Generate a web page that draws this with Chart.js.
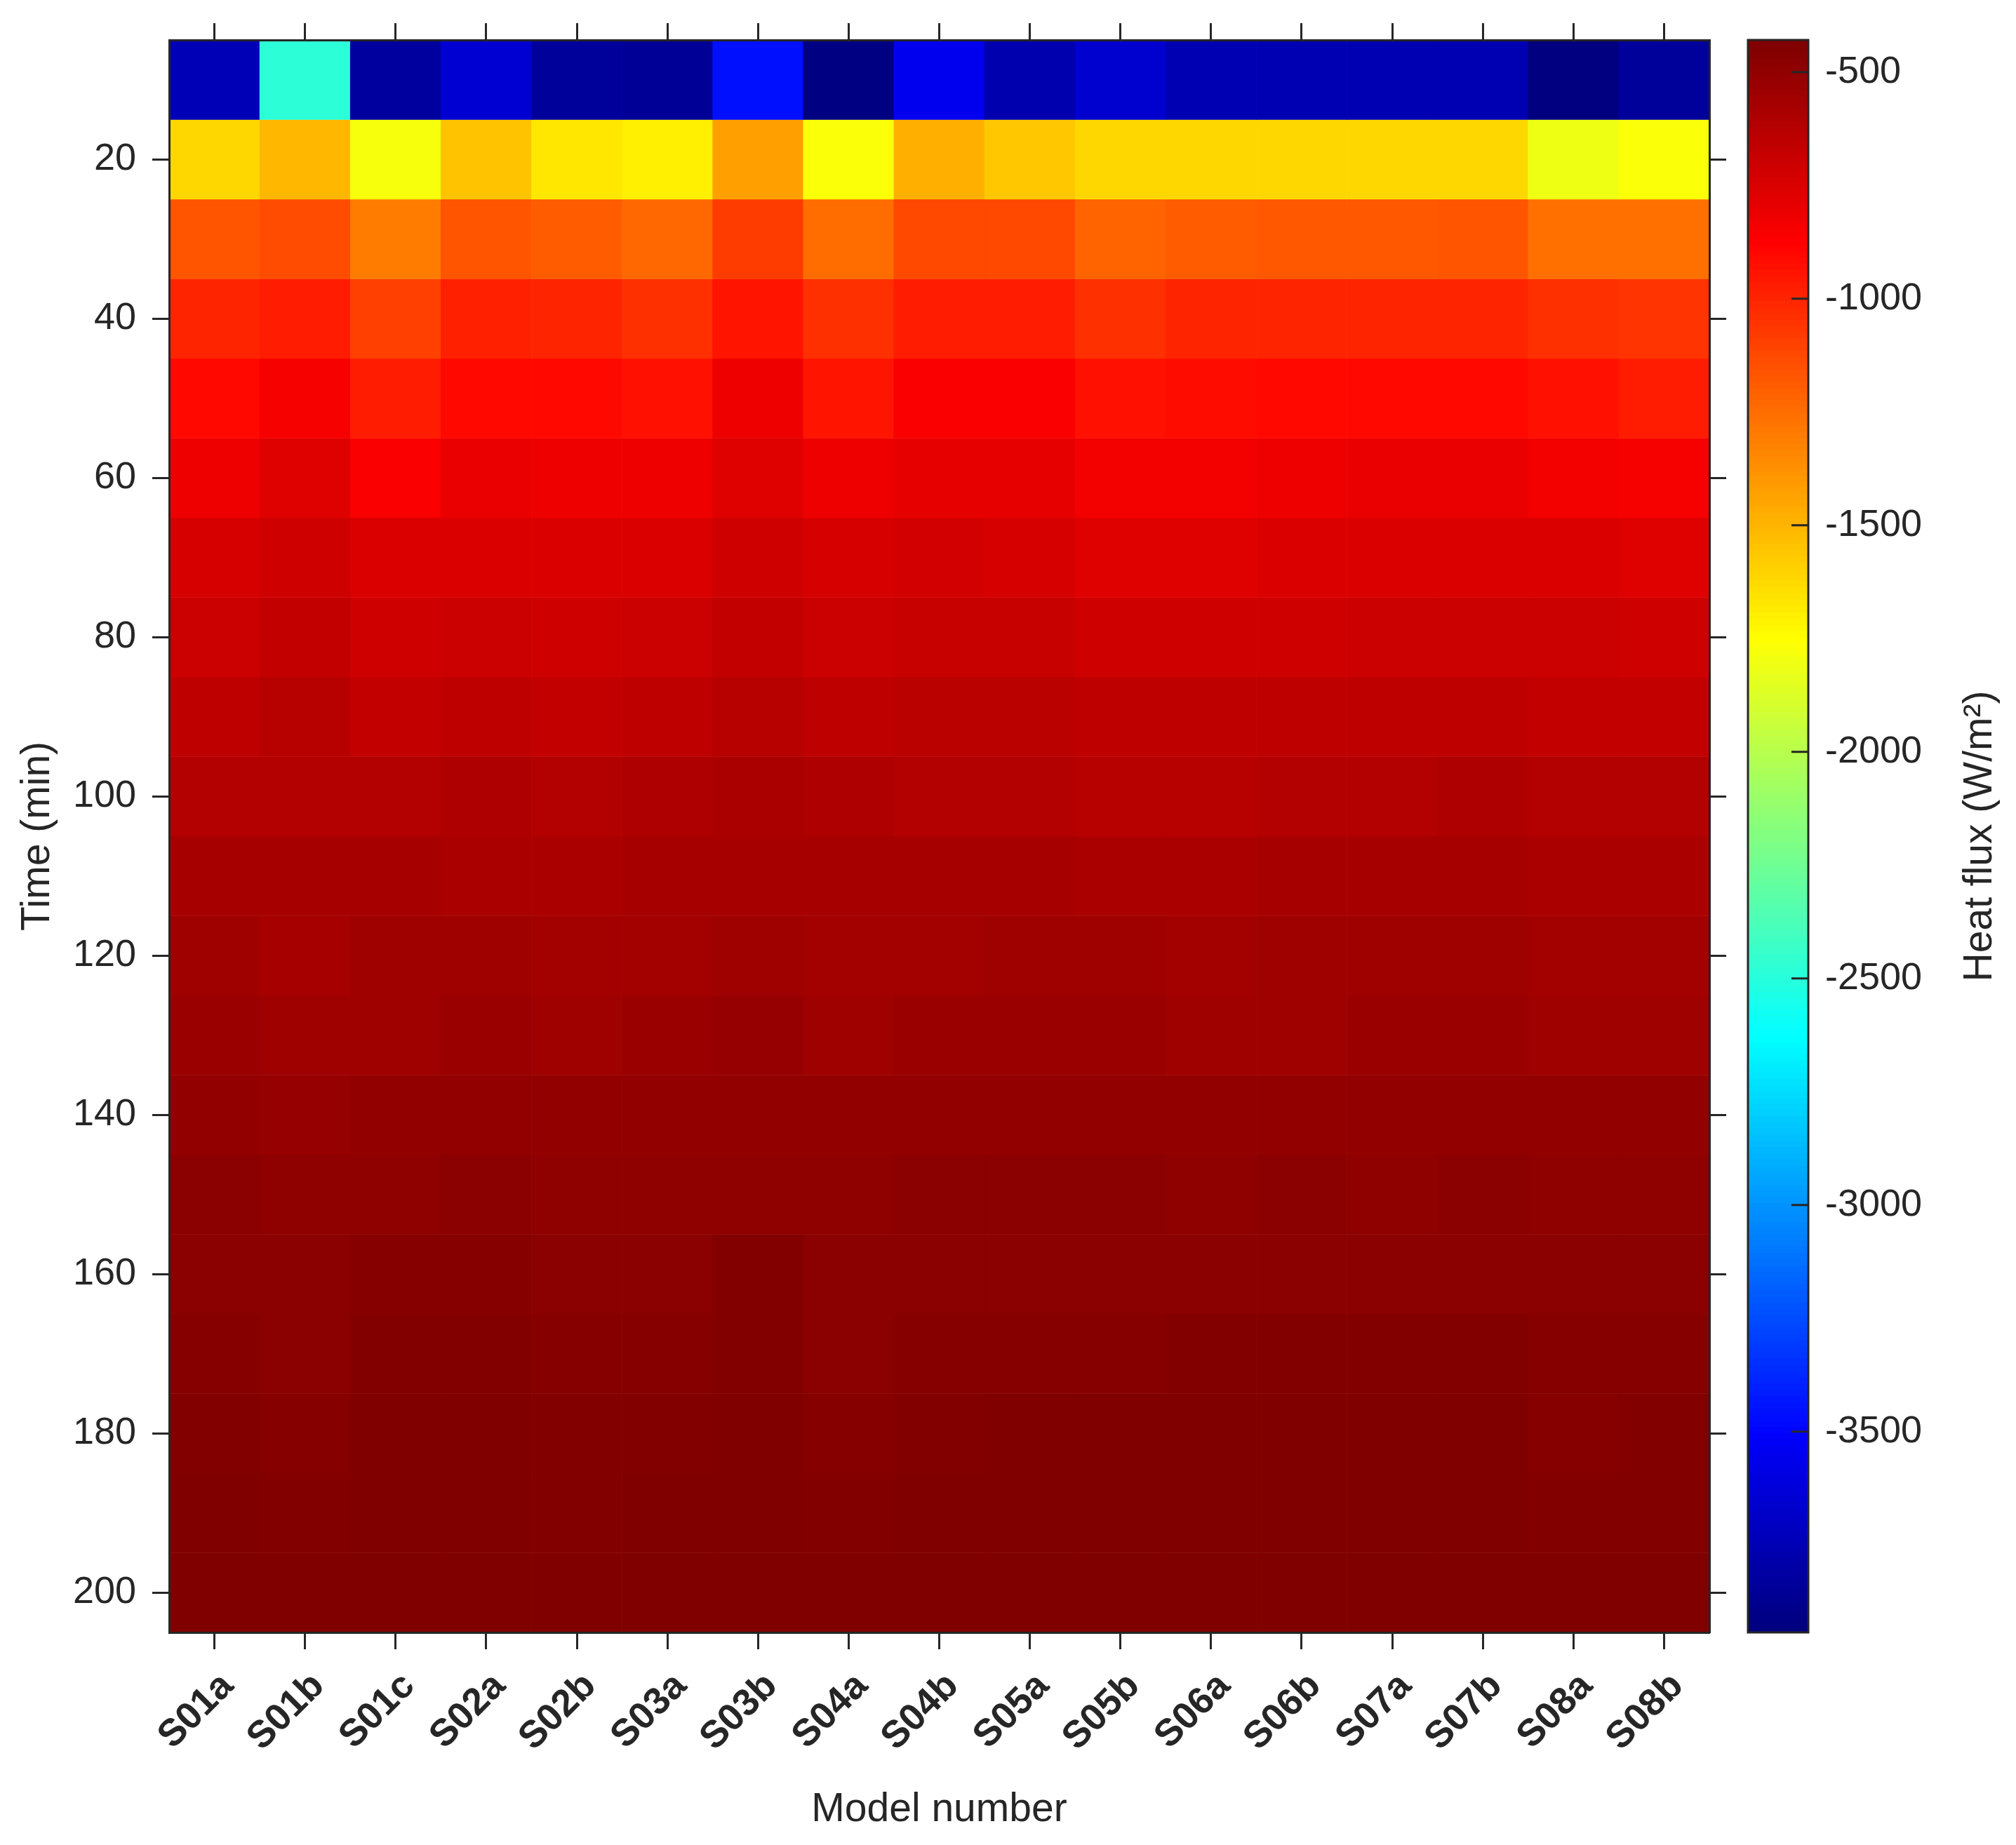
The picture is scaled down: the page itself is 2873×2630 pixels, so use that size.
<!DOCTYPE html>
<html>
<head>
<meta charset="utf-8">
<script src="https://cdn.jsdelivr.net/npm/chart.js@4.4.1/dist/chart.umd.min.js"></script>
<style>
  html, body { margin: 0; padding: 0; background: #fff; }
  #wrap { position: relative; width: 2873px; height: 2630px; }
  #heatmap { position: absolute; left: 0; top: 0; }
  #colorbar { position: absolute; left: 2480px; top: 0; }
</style>
</head>
<body>
<div id="wrap">
  <canvas id="heatmap" width="2480" height="2630"></canvas>
  <canvas id="colorbar" width="393" height="2630"></canvas>
</div>
<script>
const models = ['S01a', 'S01b', 'S01c', 'S02a', 'S02b', 'S03a', 'S03b', 'S04a', 'S04b',
                'S05a', 'S05b', 'S06a', 'S06b', 'S07a', 'S07b', 'S08a', 'S08b'];
const times = [10, 20, 30, 40, 50, 60, 70, 80, 90, 100, 110, 120, 130, 140, 150, 160, 170, 180, 190, 200];
const timeTicks = [20, 40, 60, 80, 100, 120, 140, 160, 180, 200];
const fluxTicks = [-500, -1000, -1500, -2000, -2500, -3000, -3500];

// heat flux (W/m2) for each model, one value per time step
const S01a = [-3742, -1610, -1160, -1005, -896, -823, -742, -693, -658, -610, -577, -548, -535, -507, -479, -476, -465, -444, -436, -429];
const S01b = [-2481, -1503, -1130, -972, -845, -768, -713, -665, -630, -610, -577, -570, -541, -521, -486, -476, -472, -458, -444, -436];
const S01c = [-3831, -1786, -1307, -1088, -978, -868, -754, -713, -672, -617, -577, -548, -541, -500, -486, -465, -451, -436, -430, -429];
const S02a = [-3652, -1544, -1160, -991, -896, -809, -748, -700, -658, -603, -582, -548, -528, -500, -472, -465, -451, -436, -430, -429];
const S02b = [-3835, -1675, -1195, -1005, -896, -823, -748, -707, -672, -610, -589, -562, -541, -500, -493, -472, -465, -451, -444, -436];
const S03a = [-3859, -1705, -1227, -1034, -925, -823, -748, -700, -658, -603, -570, -555, -528, -500, -493, -472, -458, -444, -436, -432];
const S03b = [-3455, -1420, -1075, -937, -823, -761, -707, -672, -630, -589, -570, -548, -514, -500, -486, -451, -444, -430, -430, -429];
const S04a = [-3920, -1765, -1247, -1040, -937, -816, -742, -700, -651, -603, -577, -555, -541, -507, -493, -476, -472, -458, -444, -436];
const S04b = [-3545, -1474, -1116, -972, -868, -796, -728, -678, -637, -610, -577, -555, -528, -507, -476, -472, -458, -444, -430, -429];
const S05a = [-3776, -1557, -1116, -972, -868, -796, -742, -678, -637, -610, -577, -548, -528, -507, -476, -472, -458, -436, -430, -429];
const S05b = [-3665, -1612, -1213, -1034, -925, -833, -761, -707, -658, -624, -582, -548, -535, -507, -476, -472, -458, -436, -430, -429];
const S06a = [-3760, -1612, -1188, -1005, -910, -833, -761, -707, -658, -624, -582, -555, -541, -500, -497, -472, -451, -436, -430, -429];
const S06b = [-3760, -1612, -1178, -1005, -896, -816, -754, -707, -651, -617, -577, -548, -541, -500, -476, -472, -451, -436, -430, -429];
const S07a = [-3755, -1612, -1178, -998, -896, -809, -754, -700, -651, -610, -577, -548, -528, -500, -493, -472, -451, -436, -430, -429];
const S07b = [-3755, -1612, -1168, -998, -896, -802, -748, -700, -651, -603, -577, -548, -528, -500, -476, -472, -451, -436, -430, -429];
const S08a = [-3943, -1806, -1255, -1040, -930, -833, -748, -700, -665, -610, -589, -562, -541, -507, -497, -476, -465, -458, -444, -436];
const S08b = [-3843, -1770, -1255, -1060, -978, -850, -761, -713, -665, -610, -589, -562, -541, -507, -497, -476, -465, -444, -444, -436];

const fluxByModel = [S01a, S01b, S01c, S02a, S02b, S03a, S03b, S04a, S04b,
                     S05a, S05b, S06a, S06b, S07a, S07b, S08a, S08b];

const ink = '#262626';
Chart.defaults.font.family = '"Liberation Sans", Arial, Helvetica, sans-serif';
Chart.defaults.color = ink;

// colour limits come from the data, like imagesc
const allFlux = fluxByModel.flat();
const cMin = Math.min(...allFlux);
const cMax = Math.max(...allFlux);

// MATLAB jet(256), i = 0..255
function jet(i) {
    const k = i + 1;
    const r = k <= 96 ? 0 : k <= 160 ? (k - 96) / 64 : k <= 223 ? 1 : (288 - k) / 64;
    const g = k <= 32 ? 0 : k <= 96 ? (k - 32) / 64 : k <= 159 ? 1 : k <= 223 ? (224 - k) / 64 : 0;
    const b = k <= 33 ? (k + 31) / 64 : k <= 96 ? 1 : k <= 159 ? (161 - k) / 64 : 0;
    return 'rgb(' + Math.round(r * 255) + ',' + Math.round(g * 255) + ',' + Math.round(b * 255) + ')';
}

function fluxColor(v) {
    const idx = Math.floor((v - cMin) / (cMax - cMin) * 256);
    return jet(Math.min(255, Math.max(0, idx)));
}

// one floating-bar dataset per time row, all stacked in the same column slot
const rowSets = times.map((t, r) => ({
    data: models.map(() => [t - 5, t + 5]),
    backgroundColor: models.map((m, j) => fluxColor(fluxByModel[j][r])),
    borderWidth: 0,
    barPercentage: 1,
    categoryPercentage: 1,
    grouped: false
}));

const tickGrid = { drawOnChartArea: false, drawTicks: true, tickLength: 24, tickWidth: 3, tickColor: ink, offset: false };
const edge = { display: true, color: ink, width: 3, z: 1 };

new Chart(document.getElementById('heatmap'), {
    type: 'bar',
    data: { labels: models, datasets: rowSets },
    options: {
        responsive: false,
        animation: false,
        devicePixelRatio: 1,
        events: [],
        layout: { padding: 0 },
        plugins: { legend: { display: false }, tooltip: { enabled: false } },
        scales: {
            x: {
                type: 'category', position: 'bottom', offset: true,
                grid: tickGrid, border: edge,
                ticks: {
                    autoSkip: false, minRotation: 45, maxRotation: 45,
                    padding: 21, labelOffset: 19,
                    font: { size: 54, weight: 'bold' }, color: ink
                },
                title: { display: true, text: 'Model number', font: { size: 57 }, color: ink, padding: { top: 0, bottom: 16 } },
                afterFit: s => { s.height = 303; }
            },
            x2: {
                type: 'category', position: 'top', offset: true,
                grid: tickGrid, border: edge,
                ticks: { display: false },
                afterFit: s => { s.height = 57; }
            },
            y: {
                type: 'linear', position: 'left', min: 5, max: 205, reverse: true,
                grid: tickGrid, border: edge,
                afterBuildTicks: s => { s.ticks = timeTicks.map(v => ({ value: v })); },
                ticks: { padding: 23, font: { size: 54 }, color: ink, callback: v => String(v) },
                title: { display: true, text: 'Time (min)', font: { size: 57 }, color: ink, padding: { top: 20, bottom: 0 } },
                afterFit: s => { s.width = 241; }
            },
            y2: {
                type: 'linear', position: 'right', min: 5, max: 205, reverse: true,
                grid: tickGrid, border: edge,
                afterBuildTicks: s => { s.ticks = timeTicks.map(v => ({ value: v })); },
                ticks: { display: false },
                afterFit: s => { s.width = 44; }
            }
        }
    }
});

// colorbar: one bar spanning the colour limits, filled with the jet ramp
function jetGradient(chart) {
    if (!chart.chartArea) return null;
    const ys = chart.scales.y;
    const top = ys.getPixelForValue(cMax);
    const bottom = ys.getPixelForValue(cMin);
    const grad = chart.ctx.createLinearGradient(0, bottom, 0, top);
    for (let i = 0; i < 256; i++) {
        grad.addColorStop(i / 256, jet(i));
        grad.addColorStop(Math.min(1, (i + 1) / 256 - 1e-6), jet(i));
    }
    return grad;
}

const colorbarFrame = {
    id: 'colorbarFrame',
    afterDraw(chart) {
        const { ctx, chartArea: a } = chart;
        const ys = chart.scales.y;
        ctx.save();
        ctx.strokeStyle = ink;
        ctx.lineWidth = 3;
        ctx.beginPath();
        fluxTicks.forEach(v => {
            const y = ys.getPixelForValue(v);
            ctx.moveTo(a.right, y);
            ctx.lineTo(a.right - 24, y);
        });
        ctx.stroke();
        ctx.strokeRect(a.left, a.top, a.right - a.left, a.bottom - a.top);
        // axis label reads bottom to top
        ctx.translate(ys.right - 51, (a.top + a.bottom) / 2);
        ctx.rotate(-Math.PI / 2);
        ctx.font = '57px "Liberation Sans", Arial, Helvetica, sans-serif';
        ctx.fillStyle = ink;
        ctx.textAlign = 'center';
        ctx.textBaseline = 'middle';
        ctx.fillText('Heat flux (W/m²)', 0, 0);
        ctx.restore();
    }
};

new Chart(document.getElementById('colorbar'), {
    type: 'bar',
    data: {
        labels: [''],
        datasets: [{
            data: [[cMin, cMax]],
            backgroundColor: ctx => jetGradient(ctx.chart),
            borderWidth: 0,
            barPercentage: 1,
            categoryPercentage: 1
        }]
    },
    options: {
        responsive: false,
        animation: false,
        devicePixelRatio: 1,
        events: [],
        layout: { padding: { left: 11, top: 57, bottom: 303, right: 0 } },
        plugins: { legend: { display: false }, tooltip: { enabled: false } },
        scales: {
            x: { display: false, offset: true },
            y: {
                position: 'right', min: cMin, max: cMax,
                grid: { display: false, drawTicks: false },
                border: { display: false },
                afterBuildTicks: s => { s.ticks = fluxTicks.map(v => ({ value: v })); },
                ticks: { padding: 24, font: { size: 54 }, color: ink, callback: v => String(v) },
                afterFit: s => { s.width = 296; }
            }
        }
    },
    plugins: [colorbarFrame]
});
</script>
</body>
</html>
